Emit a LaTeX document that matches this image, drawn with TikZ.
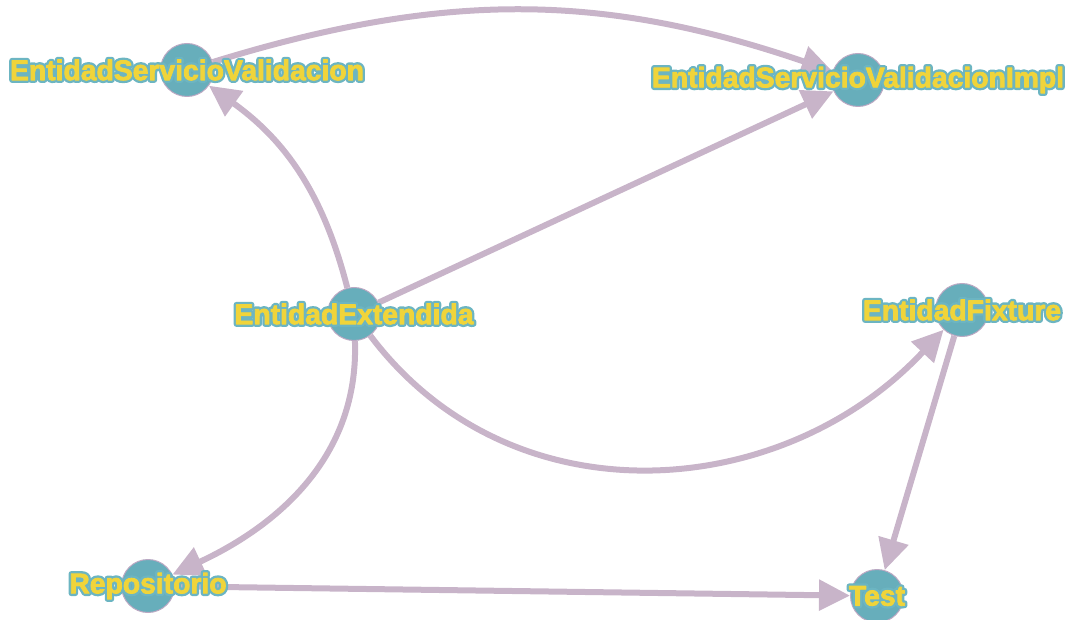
\documentclass[tikz,border=0pt]{standalone}
\usepackage{fontspec}
\setmainfont{Liberation Sans}
\usetikzlibrary{arrows.meta}

\definecolor{edgecol}{HTML}{C8B4C9}
\definecolor{nodefill}{HTML}{67AEBB}
\definecolor{nodeline}{HTML}{BBA8C3}
\definecolor{labfill}{HTML}{F0D43A}
\definecolor{labline}{HTML}{6CB5C2}

\tikzset{
  vertex/.style={circle, fill=nodefill, draw=nodeline, line width=1pt,
                 minimum size=53pt, inner sep=0pt},
  link/.style={draw=edgecol, line width=6pt,
               -{Triangle[length=31pt,width=30pt]}},
  lbltext/.style={font=\fontsize{28.3}{31}\selectfont\bfseries, inner sep=0pt},
}

% text rendering modes: stroked teal halo underneath, filled yellow on top
\newcommand\halotext[1]{%
  \special{pdf:literal direct 1 Tr 1 j 5.5 w 0.424 0.710 0.761 RG}#1%
  \special{pdf:literal direct 0 Tr}}
\newcommand\filltext[1]{%
  \special{pdf:literal direct 2 Tr 1 j 0.8 w 0.941 0.831 0.227 RG}#1%
  \special{pdf:literal direct 0 Tr}}
\newcommand\vlabel[2]{%
  \node[lbltext, text=labline] (#1-halo) at (#1) {\halotext{#2}};
  \node[lbltext, text=labfill] (#1-text) at (#1) {\filltext{#2}};}

\begin{document}
\begin{tikzpicture}[x=1pt, y=1pt]
  \useasboundingbox (0,0) rectangle (1067,619);

  % vertices
  \node[vertex] (ESV)  at (187,549) {};
  \node[vertex] (ESVI) at (858,539) {};
  \node[vertex] (EE)   at (354,305) {};
  \node[vertex] (EF)   at (962,309) {};
  \node[vertex] (Rep)  at (148,33)  {};
  \node[vertex] (Test) at (877,23)  {};

  % dependencies
  \draw[link] (ESV) to[bend left=18] (ESVI);
  \draw[link] (EE) to[bend right=20] (ESV);
  \draw[link] (EE) -- (ESVI);
  \draw[link] (EE) to[out=-53, in=-133, looseness=1.05] (EF);
  \draw[link] (EE) to[out=-88, in=25] (Rep);
  \draw[link] (Rep) -- (Test);
  \draw[link] (EF) -- (Test);

  % labels
  \vlabel{ESV}{EntidadServicioValidacion}
  \vlabel{ESVI}{EntidadServicioValidacionImpl}
  \vlabel{EE}{EntidadExtendida}
  \vlabel{EF}{EntidadFixture}
  \vlabel{Rep}{Repositorio}
  \vlabel{Test}{Test}
\end{tikzpicture}
\end{document}
